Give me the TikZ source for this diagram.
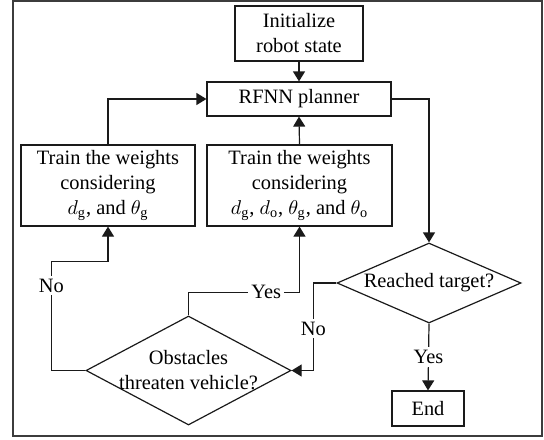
\documentclass[tikz,border=0pt]{standalone}
\usepackage{fontspec}
\setmainfont{Liberation Serif}
\usepackage{tikz}
\usetikzlibrary{positioning, arrows.meta, calc, shapes.geometric}
\definecolor{framegray}{HTML}{3C3C3C}
\definecolor{linegray}{HTML}{1A1A1A}

\tikzset{
  stepbox/.style={draw=linegray, line width=0.6pt, align=center, inner sep=0pt,
    font=\fontsize{10.2pt}{12.5pt}\selectfont},
  decision/.style={diamond, draw=linegray, line width=0.6pt, align=center, inner sep=0pt,
    font=\fontsize{10.2pt}{12.5pt}\selectfont},
  arr/.style={draw=linegray, line width=0.6pt, -{Triangle[length=5pt,width=6pt]}},
  lbl/.style={fill=white, inner sep=1.5pt, font=\fontsize{10.2pt}{12pt}\selectfont},
}

\begin{document}
\begin{tikzpicture}[x=0.5pt, y=-0.5pt]
  \useasboundingbox (0,0) rectangle (544,439);
  \draw[framegray, line width=0.8pt] (13,1) rectangle (542,436);

  % boxes
  \node[stepbox, minimum width=64pt, minimum height=27.5pt] (init) at (299,33.5)
    {Initialize\\robot state};
  \node[stepbox, minimum width=92pt, minimum height=17pt] (rfnn) at (299,99)
    {RFNN planner};
  \node[stepbox, minimum width=87pt, minimum height=40.5pt] (trainL) at (108,185.5)
    {Train the weights\\considering\\$d_{\mathrm{g}}$, and $\theta_{\mathrm{g}}$};
  \node[stepbox, minimum width=92.5pt, minimum height=40.5pt] (trainM) at (299.5,185.5)
    {Train the weights\\considering\\$d_{\mathrm{g}}$, $d_{\mathrm{o}}$, $\theta_{\mathrm{g}}$, and $\theta_{\mathrm{o}}$};
  \node[decision, aspect=2.3, minimum width=92pt, minimum height=40pt] (reached) at (429,283)
    {Reached target?};
  \node[decision, aspect=1.88, inner xsep=-6pt, minimum width=102.5pt, minimum height=54.5pt]
    (obst) at (188.5,370.5) {Obstacles\\threaten vehicle?};
  \node[stepbox, minimum width=36pt, minimum height=17.5pt] (end) at (428,408.5)
    {End};

  % connectors
  \draw[arr] (init.south) -- (rfnn.north);
  \draw[arr] (trainL.north) |- (rfnn.west);
  \draw[arr] (trainM.north) -- (rfnn.south);
  \draw[arr] (rfnn.east) -| (reached.north);
  \draw[arr] (reached.south) -- node[lbl]{Yes} (end.north);
  \draw[arr] (reached.west) -- ++(-23,0) |- node[lbl, pos=0.26]{No} (obst.east);
  \draw[arr] (obst.north) -- ++(0,-23) -| node[lbl, pos=0.35]{Yes} (trainM.south);
  \draw[arr] (obst.west) -- ++(-34,0) -- node[lbl, pos=0.78]{No} ++(0,-109) -| (trainL.south);
\end{tikzpicture}
\end{document}
